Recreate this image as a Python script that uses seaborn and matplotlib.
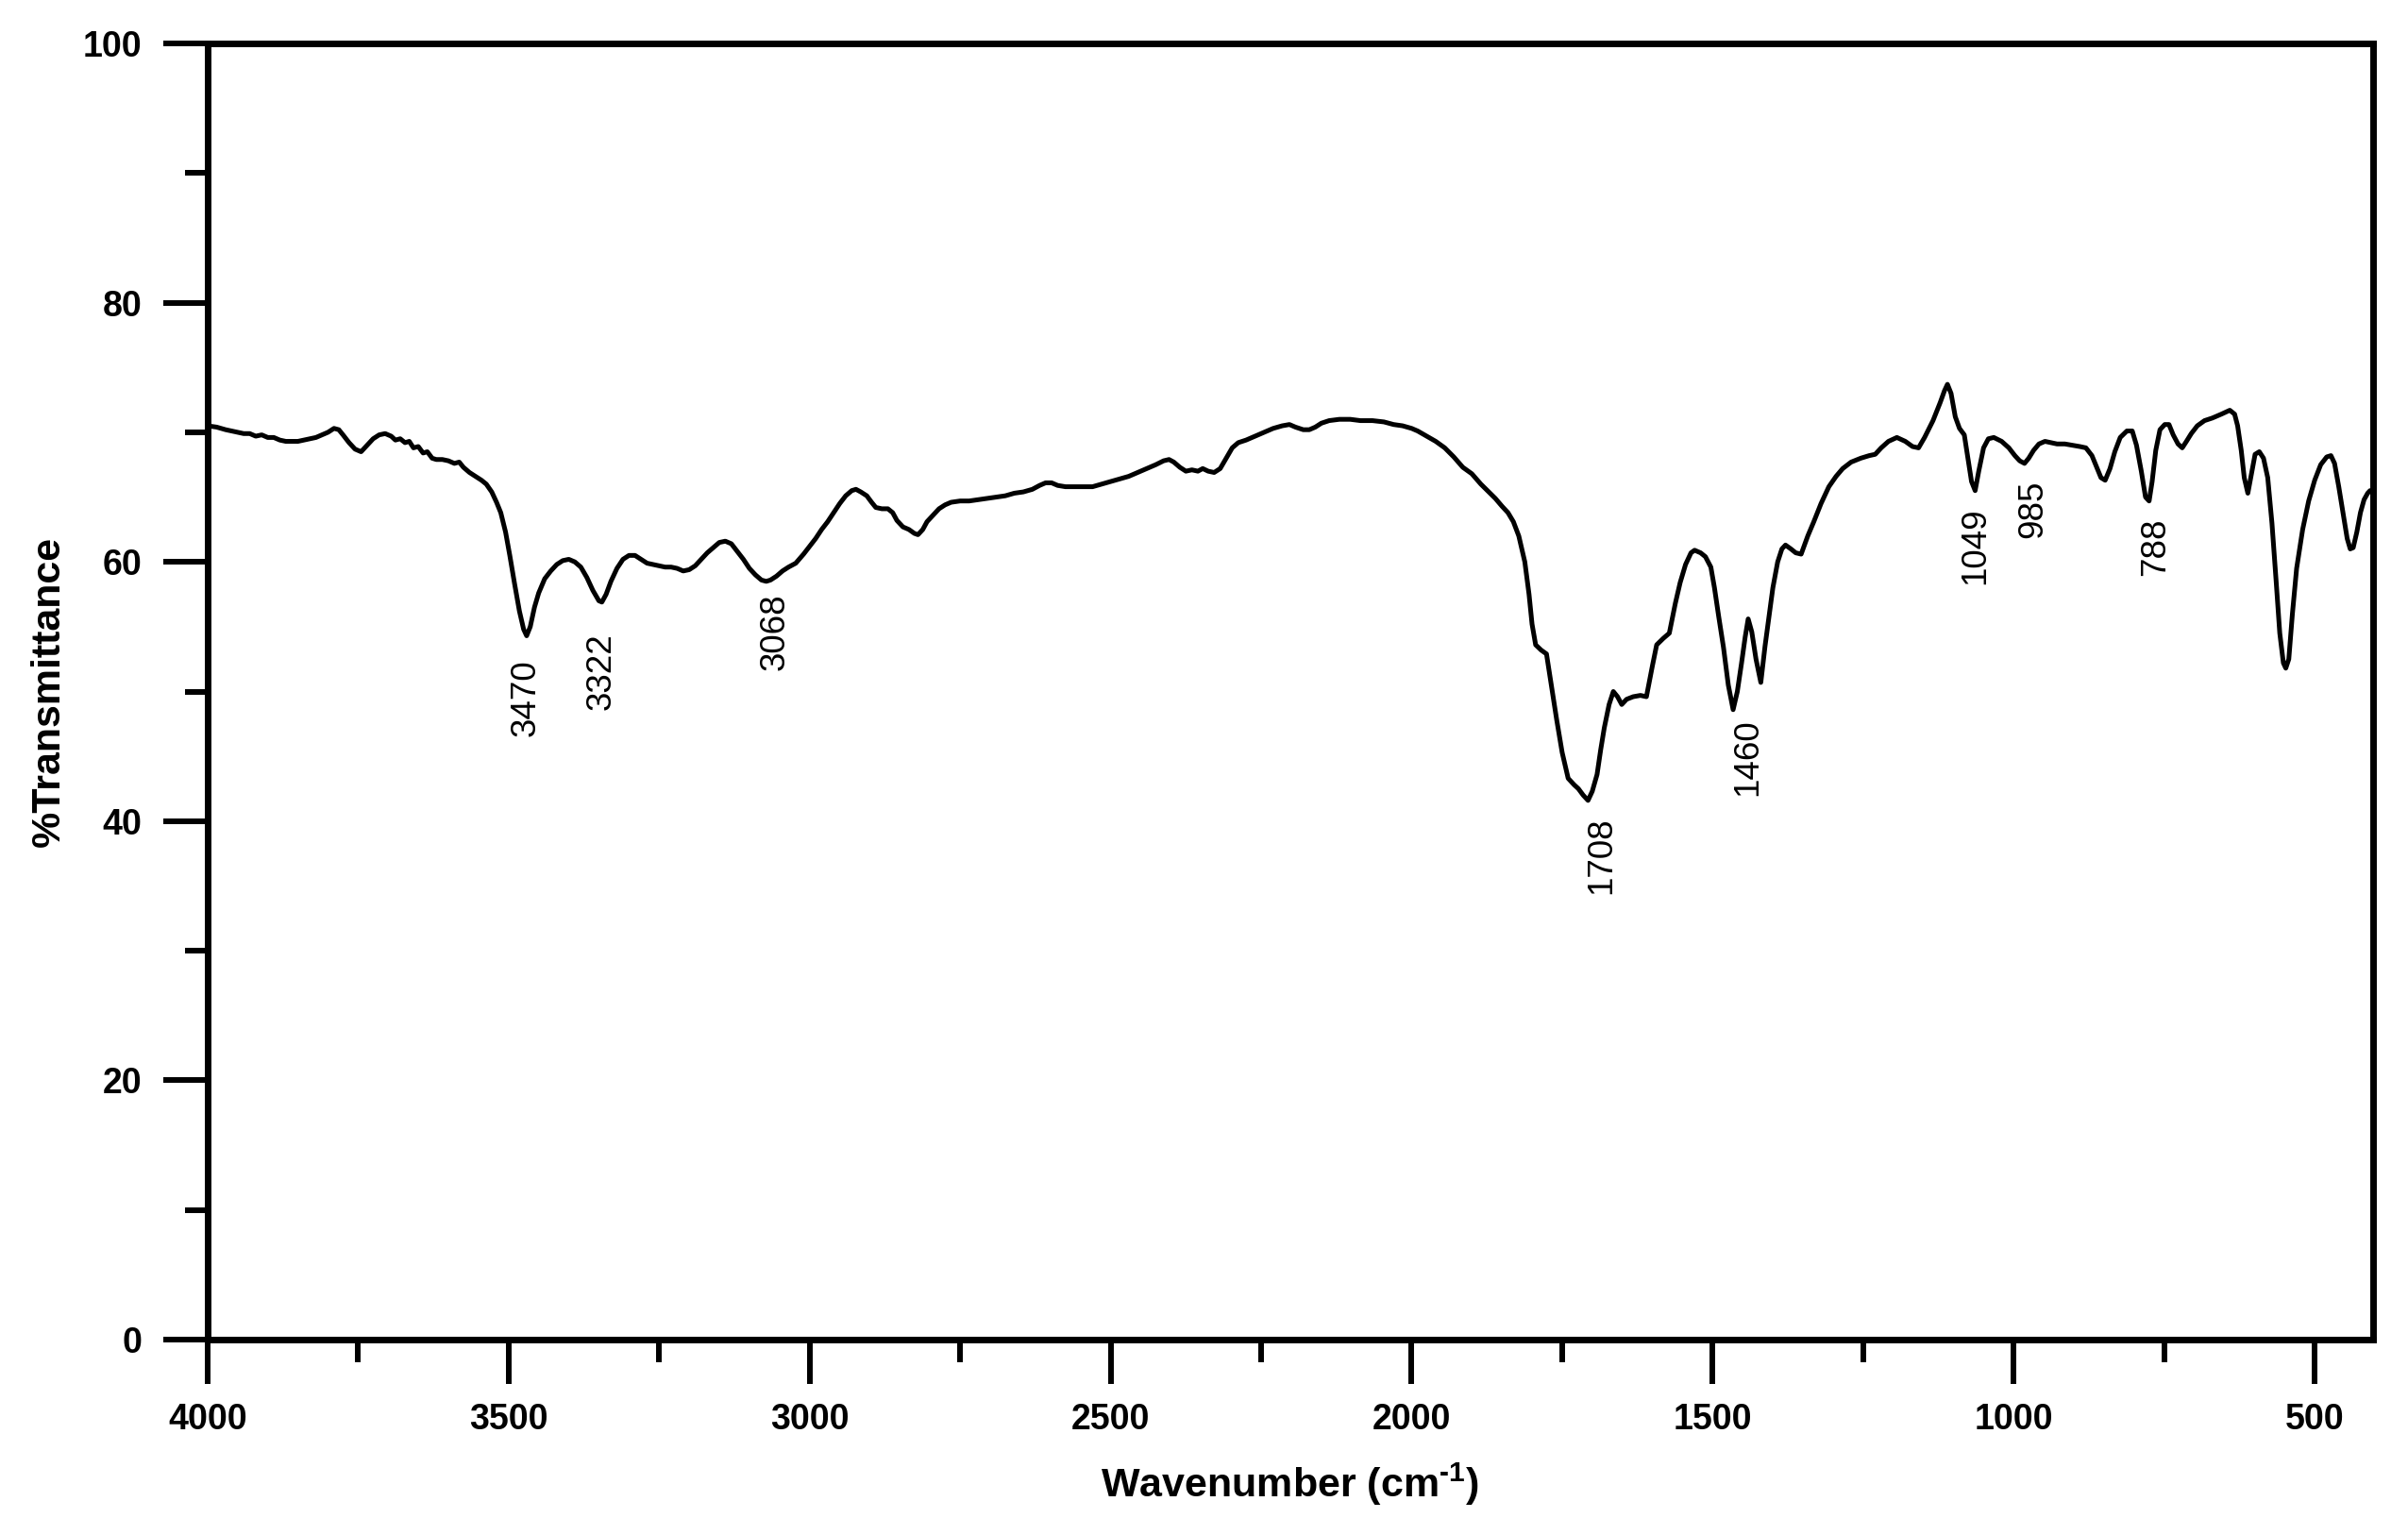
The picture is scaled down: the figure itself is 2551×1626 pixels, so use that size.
import numpy as np
import pandas as pd
import matplotlib
matplotlib.use("Agg")
import matplotlib.pyplot as plt
from matplotlib.ticker import MultipleLocator
import seaborn as sns

# --- данные спектра ---
wavenumber = [
    4000, 3985, 3970, 3960, 3950, 3940, 3930, 3920, 3910, 3900, 3890, 3880, 3870, 3860,
    3850, 3840, 3830, 3820, 3810, 3800, 3790, 3782, 3775, 3765, 3755, 3745, 3735, 3725,
    3715, 3705, 3695, 3688, 3680, 3672, 3665, 3658, 3650, 3642, 3635, 3627, 3620, 3610,
    3600, 3590, 3582, 3575, 3565, 3555, 3545, 3537, 3528, 3520, 3513, 3505, 3498, 3490,
    3482, 3475, 3470, 3464, 3457, 3450, 3440, 3430, 3420, 3410, 3400, 3390, 3380, 3370,
    3360, 3350, 3345, 3338, 3330, 3320, 3310, 3300, 3290, 3280, 3270, 3260, 3250, 3240,
    3230, 3220, 3210, 3200, 3190, 3180, 3170, 3160, 3150, 3140, 3130, 3120, 3110, 3100,
    3090, 3080, 3072, 3065, 3055, 3045, 3035, 3023, 3010, 3000, 2990, 2980, 2970, 2960,
    2950, 2940, 2930, 2923, 2915, 2905, 2897, 2890, 2880, 2870, 2862, 2855, 2845, 2835,
    2826, 2820, 2812, 2805, 2795, 2785, 2775, 2765, 2750, 2735, 2720, 2705, 2690, 2675,
    2660, 2645, 2630, 2618, 2608, 2598, 2588, 2575, 2560, 2545, 2530, 2515, 2500, 2485,
    2470, 2455, 2440, 2425, 2412, 2403, 2395, 2385, 2375, 2365, 2355, 2347, 2338, 2328,
    2318, 2308, 2298, 2288, 2275, 2260, 2245, 2230, 2215, 2203, 2193, 2180, 2170, 2160,
    2150, 2137, 2120, 2102, 2085, 2065, 2046, 2030, 2015, 2000, 1990, 1975, 1960, 1945,
    1930, 1915, 1900, 1885, 1872, 1861, 1850, 1840, 1831, 1822, 1812, 1805, 1800, 1794,
    1785, 1776, 1768, 1759, 1750, 1740, 1730, 1723, 1715, 1707, 1700, 1692, 1686, 1680,
    1672, 1665, 1658, 1651, 1643, 1632, 1620, 1610, 1600, 1593, 1582, 1572, 1562, 1554,
    1545, 1536, 1530, 1520, 1512, 1503, 1497, 1490, 1482, 1474, 1466, 1459, 1452, 1446,
    1441, 1435, 1428, 1420, 1413, 1407, 1400, 1392, 1385, 1379, 1370, 1362, 1353, 1342,
    1332, 1320, 1307, 1295, 1284, 1270, 1254, 1240, 1230, 1220, 1208, 1194, 1180, 1168,
    1158, 1148, 1134, 1122, 1115, 1110, 1104, 1097, 1090, 1082, 1076, 1070, 1064, 1058,
    1050, 1042, 1033, 1020, 1008, 998, 990, 982, 975, 967, 958, 948, 938, 928,
    915, 903, 890, 880, 870, 862, 855, 848, 840, 832, 823, 812, 803, 796,
    788, 781, 775, 770, 764, 757, 749, 742, 735, 727, 720, 713, 705, 695,
    683, 670, 655, 641, 633, 628, 622, 617, 611, 605, 599, 592, 585, 578,
    571, 564, 558, 552, 548, 543, 537, 530, 520, 510, 500, 490, 480, 473,
    467, 460, 453, 446, 441, 436, 430, 424, 418, 412, 408,
]
transmittance = [
    70.5, 70.4, 70.2, 70.1, 70.0, 69.9, 69.9, 69.7, 69.8, 69.6, 69.6, 69.4, 69.3, 69.3,
    69.3, 69.4, 69.5, 69.6, 69.8, 70.0, 70.3, 70.2, 69.8, 69.2, 68.7, 68.5, 69.0, 69.5,
    69.8, 69.9, 69.7, 69.4, 69.5, 69.2, 69.3, 68.8, 68.9, 68.4, 68.5, 68.0, 67.9, 67.9,
    67.8, 67.6, 67.7, 67.3, 66.9, 66.6, 66.3, 66.0, 65.4, 64.6, 63.8, 62.3, 60.5, 58.3,
    56.2, 54.8, 54.3, 55.0, 56.5, 57.6, 58.7, 59.3, 59.8, 60.1, 60.2, 60.0, 59.6, 58.8,
    57.8, 57.0, 56.9, 57.5, 58.5, 59.5, 60.2, 60.5, 60.5, 60.2, 59.9, 59.8, 59.7, 59.6,
    59.6, 59.5, 59.3, 59.4, 59.7, 60.2, 60.7, 61.1, 61.5, 61.6, 61.4, 60.8, 60.2, 59.5,
    59.0, 58.6, 58.5, 58.6, 58.9, 59.3, 59.6, 59.9, 60.6, 61.2, 61.8, 62.5, 63.1, 63.8,
    64.5, 65.1, 65.5, 65.6, 65.4, 65.1, 64.6, 64.2, 64.1, 64.1, 63.8, 63.2, 62.7, 62.5,
    62.2, 62.1, 62.5, 63.1, 63.6, 64.1, 64.4, 64.6, 64.7, 64.7, 64.8, 64.9, 65.0, 65.1,
    65.3, 65.4, 65.6, 65.9, 66.1, 66.1, 65.9, 65.8, 65.8, 65.8, 65.8, 66.0, 66.2, 66.4,
    66.6, 66.9, 67.2, 67.5, 67.8, 67.9, 67.7, 67.3, 67.0, 67.1, 67.0, 67.2, 67.0, 66.9,
    67.2, 68.0, 68.8, 69.2, 69.4, 69.7, 70.0, 70.3, 70.5, 70.6, 70.4, 70.2, 70.2, 70.4,
    70.7, 70.9, 71.0, 71.0, 70.9, 70.9, 70.8, 70.6, 70.5, 70.3, 70.1, 69.7, 69.3, 68.8,
    68.1, 67.3, 66.8, 66.0, 65.4, 64.9, 64.3, 63.8, 63.1, 62.0, 60.0, 57.5, 55.2, 53.6,
    53.2, 52.9, 50.5, 47.8, 45.3, 43.3, 42.8, 42.5, 42.0, 41.6, 42.3, 43.6, 45.5, 47.2,
    49.0, 50.0, 49.6, 49.0, 49.4, 49.6, 49.7, 49.6, 52.0, 53.6, 54.1, 54.5, 56.8, 58.4,
    59.8, 60.7, 60.9, 60.7, 60.4, 59.6, 58.0, 55.8, 53.4, 50.5, 48.6, 50.0, 52.2, 54.2,
    55.6, 54.6, 52.5, 50.7, 53.5, 55.6, 58.0, 60.0, 61.0, 61.3, 61.0, 60.7, 60.6, 62.0,
    63.1, 64.5, 65.8, 66.6, 67.2, 67.7, 68.0, 68.2, 68.3, 68.8, 69.3, 69.6, 69.3, 68.9,
    68.8, 69.6, 70.9, 72.3, 73.2, 73.7, 73.0, 71.2, 70.3, 69.8, 68.0, 66.2, 65.5, 67.0,
    68.8, 69.5, 69.6, 69.3, 68.8, 68.2, 67.8, 67.6, 68.0, 68.6, 69.1, 69.3, 69.2, 69.1,
    69.1, 69.0, 68.9, 68.8, 68.2, 67.3, 66.5, 66.3, 67.2, 68.5, 69.6, 70.1, 70.1, 69.0,
    67.0, 65.0, 64.7, 66.2, 68.6, 70.2, 70.6, 70.6, 69.8, 69.1, 68.8, 69.3, 69.9, 70.5,
    70.9, 71.1, 71.4, 71.7, 71.4, 70.5, 68.6, 66.5, 65.3, 66.8, 68.3, 68.5, 68.0, 66.5,
    63.0, 58.5, 54.5, 52.2, 51.8, 52.5, 56.0, 59.5, 62.5, 64.7, 66.3, 67.5, 68.1, 68.2,
    67.6, 65.8, 63.8, 61.8, 61.0, 61.1, 62.3, 63.8, 64.8, 65.3, 65.5,
]

# подписи пиков
peak_labels = ["3470", "3322", "3068", "1708", "1460", "1049", "985", "788"]
peak_label_wn = [3472, 3346, 3058, 1684, 1441, 1064, 968, 765]
peak_label_t = [52.5, 54.5, 57.6, 40.3, 47.9, 64.2, 66.3, 63.4]

df = pd.DataFrame({"wavenumber": wavenumber, "transmittance": transmittance})

sns.set_style("ticks")
plt.rcParams["font.family"] = ["Liberation Sans", "DejaVu Sans"]
plt.rcParams["mathtext.fontset"] = "custom"
plt.rcParams["mathtext.rm"] = "Liberation Sans"
plt.rcParams["mathtext.bf"] = "Liberation Sans:bold"
for key in ["text.color", "axes.labelcolor", "xtick.color", "ytick.color", "axes.edgecolor"]:
    plt.rcParams[key] = "black"

fig = plt.figure(figsize=(25.51, 16.26), dpi=100)
ax = fig.add_axes([0.0862, 0.1273, 0.8993, 0.8444])

sns.lineplot(data=df, x="wavenumber", y="transmittance", ax=ax,
             color="black", linewidth=3.6, estimator=None)

ax.set_xlim(4000, 403)
ax.set_ylim(0, 100)
ax.xaxis.set_major_locator(MultipleLocator(500))
ax.xaxis.set_minor_locator(MultipleLocator(250))
ax.yaxis.set_major_locator(MultipleLocator(20))
ax.yaxis.set_minor_locator(MultipleLocator(10))

ax.tick_params(which="major", direction="out", length=34, width=4.3,
               labelsize=27, top=False, right=False, colors="black")
ax.tick_params(which="minor", direction="out", length=17, width=4.3,
               top=False, right=False, colors="black")
ax.tick_params(axis="y", which="major", pad=16)
ax.tick_params(axis="x", which="major", pad=14)
for lbl in ax.get_xticklabels() + ax.get_yticklabels():
    lbl.set_fontweight("bold")

for sp in ax.spines.values():
    sp.set_color("black")
    sp.set_linewidth(5)
    sp.set_visible(True)

ax.set_xlabel("Wavenumber (cm$^{\\mathbf{\u20101}}$)", fontsize=31, fontweight="bold")
ax.set_ylabel("%Transmittance", fontsize=31, fontweight="bold")
ax.xaxis.set_label_coords(0.5, -0.112)
ax.xaxis.label.set_va("center")
ax.yaxis.set_label_coords(-0.0732, 0.5)
ax.yaxis.label.set_va("center")

for lab, xw, yt in zip(peak_labels, peak_label_wn, peak_label_t):
    ax.text(xw, yt, lab, rotation=90, ha="center", va="top", fontsize=26.5,
            color="black")

fig.savefig("out.png", dpi=100)
